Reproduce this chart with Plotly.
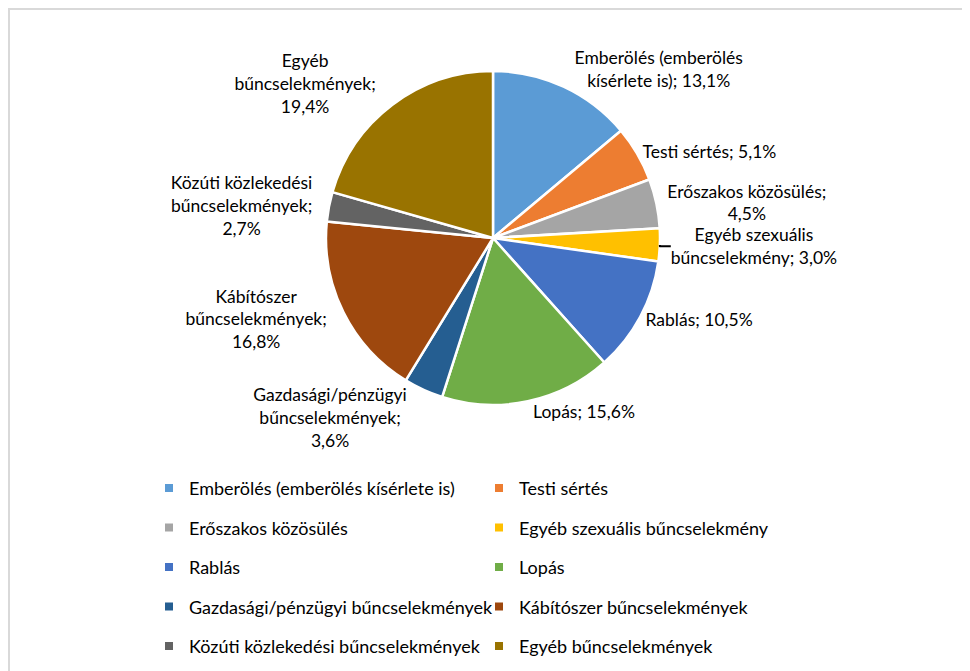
import plotly.graph_objects as go

categories = [
    "Emberölés (emberölés kísérlete is)",
    "Testi sértés",
    "Erőszakos közösülés",
    "Egyéb szexuális bűncselekmény",
    "Rablás",
    "Lopás",
    "Gazdasági/pénzügyi bűncselekmények",
    "Kábítószer bűncselekmények",
    "Közúti közlekedési bűncselekmények",
    "Egyéb bűncselekmények",
]
label_texts = [
    "Emberölés (emberölés<br>kísérlete is)",
    "Testi sértés",
    "Erőszakos közösülés;<br>",
    "Egyéb szexuális<br>bűncselekmény",
    "Rablás",
    "Lopás",
    "Gazdasági/pénzügyi<br>bűncselekmények;<br>",
    "Kábítószer<br>bűncselekmények;<br>",
    "Közúti közlekedési<br>bűncselekmények;<br>",
    "Egyéb<br>bűncselekmények;<br>",
]
values = [13.1, 5.1, 4.5, 3.0, 10.5, 15.6, 3.6, 16.8, 2.7, 19.4]
colors = ["#5B9BD5", "#ED7D31", "#A5A5A5", "#FFC000", "#4472C4",
          "#70AD47", "#255E91", "#9E480E", "#636363", "#997300"]

FONT = "Lato"
FS_LABEL = 17.5
FS_LEG = 18

def fmt(v):
    return f"{v:.1f}".replace(".", ",") + "%"

texts = []
for lt, v in zip(label_texts, values):
    if lt.endswith("<br>"):
        texts.append(lt + fmt(v))
    else:
        texts.append(lt + "; " + fmt(v))

W, H = 970, 671
# page has an 8px body margin; positions below are in figure pixels
cx, cy, r = 485, 230, 167

fig = go.Figure()
fig.add_trace(go.Pie(
    labels=categories,
    values=values,
    text=texts,
    textinfo="text",
    texttemplate="%{text}",
    textposition="outside",
    sort=False,
    direction="clockwise",
    rotation=0,
    marker=dict(colors=colors, line=dict(color="white", width=2.5)),
    outsidetextfont=dict(family=FONT, size=FS_LABEL, color="black"),
    showlegend=False,
    hoverinfo="skip",
    domain=dict(x=[(cx - r) / W, (cx + r) / W],
                y=[(H - cy - r) / H, (H - cy + r) / H]),
))

for i, (c, col) in enumerate(zip(categories, colors)):
    fig.add_trace(go.Scatter(
        x=[None], y=[None], mode="markers", name=c,
        marker=dict(symbol="square", size=8, color=col),
        legend="legend" if i % 2 == 0 else "legend2",
        legendgroup=f"g{i}",
        showlegend=True,
    ))

leg_common = dict(
    font=dict(family=FONT, size=FS_LEG, color="black"),
    bgcolor="rgba(0,0,0,0)",
    tracegroupgap=13.1,
    yanchor="top",
    xanchor="left",
    y=(H - 461.8) / H,
    itemclick=False,
)

fig.update_layout(
    width=W, height=H,
    margin=dict(l=0, r=0, t=0, b=0),
    paper_bgcolor="white",
    plot_bgcolor="white",
    xaxis=dict(visible=False),
    yaxis=dict(visible=False),
    legend=dict(x=141 / W, **leg_common),
    legend2=dict(x=471 / W, **leg_common),
    shapes=[dict(type="rect", xref="paper", yref="paper",
                 x0=1 / W, x1=1.05, y0=-0.05, y1=(H - 1) / H,
                 line=dict(color="#D9D9D9", width=2), layer="below")],
)

fig.write_html("out.html")
